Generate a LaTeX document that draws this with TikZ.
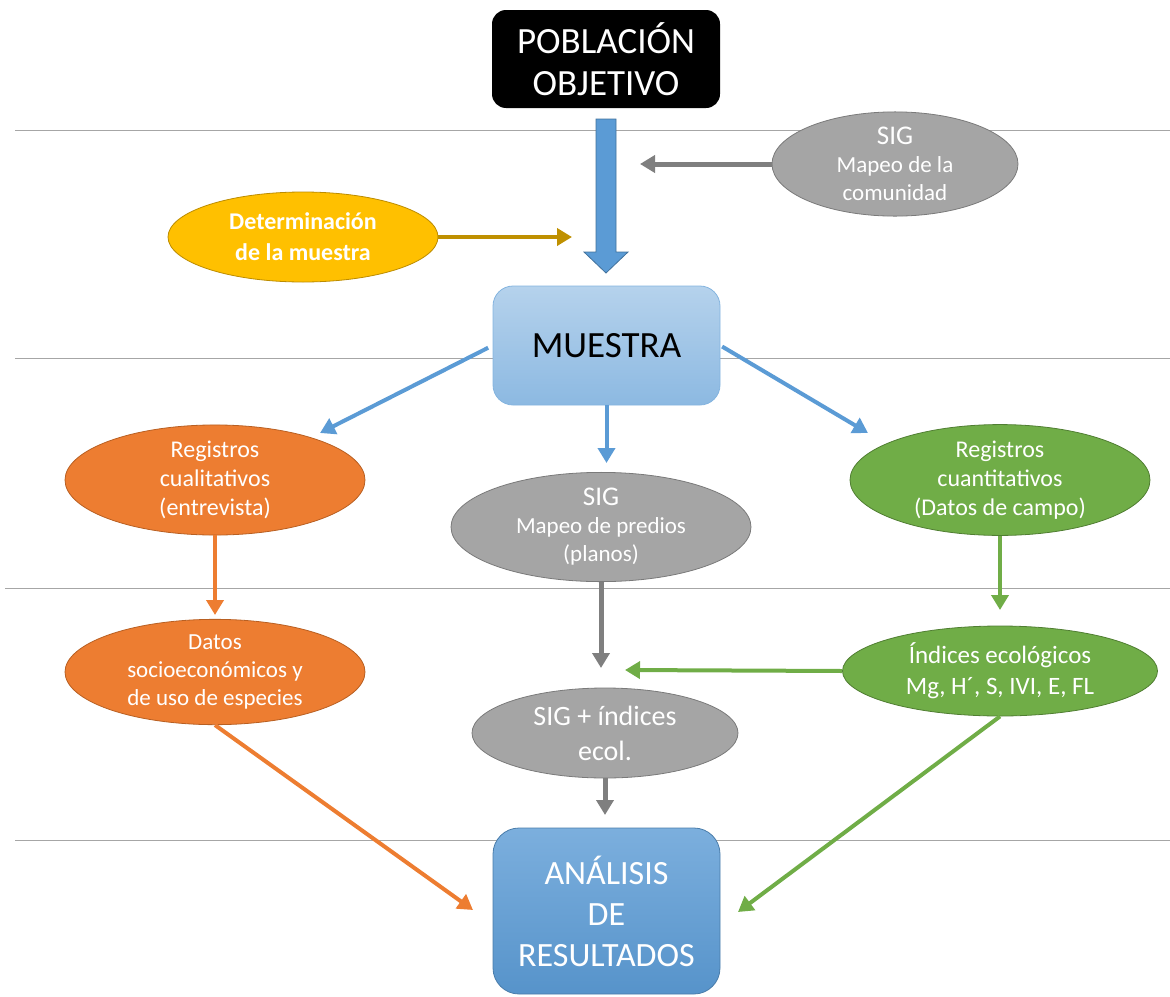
\documentclass[tikz,border=0pt]{standalone}
\usepackage{fontspec}
\setmainfont{Carlito}
\usetikzlibrary{shapes.geometric,arrows.meta}
\definecolor{blu}{HTML}{5B9BD5}
\definecolor{bluedge}{HTML}{41719C}
\definecolor{grayfill}{HTML}{A5A5A5}
\definecolor{grayedge}{HTML}{7A7A7A}
\definecolor{grayarrow}{HTML}{7F7F7F}
\definecolor{orafill}{HTML}{ED7D31}
\definecolor{oraedge}{HTML}{B85F22}
\definecolor{grnfill}{HTML}{70AD47}
\definecolor{grnedge}{HTML}{507E32}
\definecolor{goldfill}{HTML}{FFC000}
\definecolor{goldedge}{HTML}{BC8C00}
\definecolor{goldarrow}{HTML}{BF9000}
\definecolor{rule}{HTML}{A6A6A6}
\begin{document}
\begin{tikzpicture}[x=1pt,y=-1pt,
  oval/.style={ellipse,inner sep=0pt,line width=0.8pt,text=white,align=center,font=\fontsize{23}{28}\selectfont},
  grayoval/.style={oval,fill=grayfill,draw=grayedge},
  oraoval/.style={oval,fill=orafill,draw=oraedge},
  grnoval/.style={oval,fill=grnfill,draw=grnedge},
  conn/.style={line width=4pt,-{Triangle[length=15pt,width=17pt]}},
  bluconn/.style={conn,draw=blu},
  grayconn/.style={conn,line width=5pt,draw=grayarrow},
  oraconn/.style={conn,draw=orafill},
  grnconn/.style={conn,draw=grnfill},
  hrule/.style={draw=rule,line width=1pt}]
\useasboundingbox (0,0) rectangle (1170,996);
% horizontal rules
\draw[hrule] (15,130) -- (1170,130);
\draw[hrule] (15,358) -- (1170,358);
\draw[hrule] (5,588) -- (1170,588);
\draw[hrule] (15,840) -- (1170,840);
% nodes
\node[rectangle,rounded corners=14pt,fill=black,minimum width=228pt,minimum height=98pt,text=white,align=center,font=\fontsize{37}{42}\selectfont] (pob) at (606,59) {POBLACIÓN\\OBJETIVO};
\node[grayoval,minimum width=246pt,minimum height=88pt] (sigc) at (895,164) {{\fontsize{27}{29}\selectfont SIG}\\Mapeo de la\\comunidad};
\node[oval,fill=goldfill,draw=goldedge,minimum width=270pt,minimum height=90pt,font=\fontsize{24}{31}\selectfont\bfseries] (det) at (303,237) {Determinación\\de la muestra};
\node[rectangle,rounded corners=20pt,top color=blu!45!white,bottom color=blu!70!white,draw=blu!75!white,line width=0.8pt,minimum width=227pt,minimum height=119pt,font=\fontsize{37}{40}\selectfont] (mue) at (606.5,345.5) {MUESTRA};
\node[oraoval,minimum width=300pt,minimum height=94pt,font=\fontsize{24}{29}\selectfont] (rcl) at (215,480) {Registros\\cualitativos\\(entrevista)};
\node[grayoval,minimum width=300pt,minimum height=90pt] (sigp) at (601,527) {{\fontsize{27}{29}\selectfont SIG}\\Mapeo de predios\\(planos)};
\node[grnoval,minimum width=300pt,minimum height=94pt,font=\fontsize{24}{29}\selectfont] (rcn) at (1000,480) {Registros\\cuantitativos\\(Datos de campo)};
\node[oraoval,minimum width=300pt,minimum height=94pt] (dso) at (215,672) {Datos\\socioeconómicos y\\de uso de especies};
\node[grayoval,minimum width=266pt,minimum height=90pt,font=\fontsize{28}{35}\selectfont] (sige) at (605,733) {SIG + índices\\ecol.};
\node[grnoval,minimum width=315pt,minimum height=90pt,font=\fontsize{25}{31}\selectfont] (ind) at (1000,671) {Índices ecológicos\\Mg, H´, S, IVI, E, FL};
\node[rectangle,rounded corners=26pt,top color=blu!80!white,bottom color=blu!95!black,draw=blu!80!black,line width=0.8pt,minimum width=227pt,minimum height=166pt,text=white,align=center,font=\fontsize{34}{41}\selectfont] (ana) at (606.5,911) {ANÁLISIS\\DE\\RESULTADOS};
% free ends
\coordinate (e1) at (640,164);
\coordinate (e2) at (572,237);
\coordinate (e3) at (320,433);
\coordinate (e4) at (868,433);
\coordinate (e5) at (606.5,463);
\coordinate (e6) at (215,615);
\coordinate (e7) at (601,668);
\coordinate (e8) at (1000,610);
\coordinate (e9) at (625,670);
\coordinate (e10) at (605,815);
\coordinate (e11) at (473,910);
\coordinate (e12) at (738,912);
% big block arrow
\draw[fill=blu,draw=bluedge,line width=0.8pt] (596,119) -- (616,119) -- (616,252) -- (628,252) -- (606,273) -- (584,252) -- (596,252) -- cycle;
% connectors
\draw[grayconn] (sigc.west) -- (e1);
\draw[conn,draw=goldarrow] (det.east) -- (e2);
\draw[bluconn,shorten <=5pt] (mue.west) -- (e3);
\draw[bluconn,shorten <=2pt] (mue.east) -- (e4);
\draw[bluconn] (mue.south) -- (e5);
\draw[oraconn] (rcl.south) -- (e6);
\draw[grayconn] (sigp.south) -- (e7);
\draw[grnconn] (rcn.south) -- (e8);
\draw[grnconn] (ind.west) -- (e9);
\draw[grayconn] (sige.south) -- (e10);
\draw[oraconn] (dso.south) -- (e11);
\draw[grnconn] (ind.south) -- (e12);
\end{tikzpicture}
\end{document}
